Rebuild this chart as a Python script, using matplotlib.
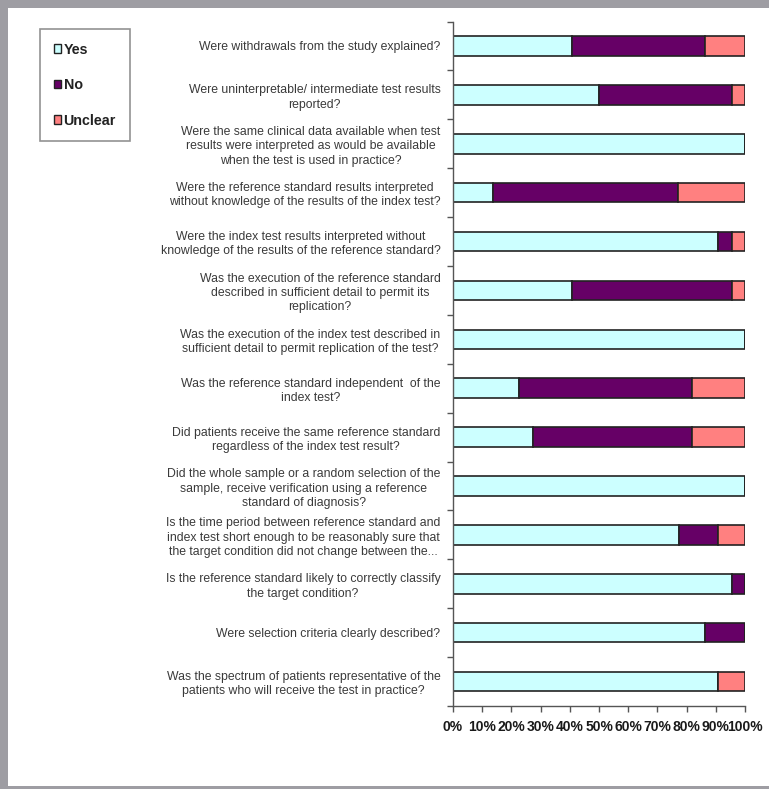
import matplotlib
matplotlib.use("Agg")
import matplotlib.pyplot as plt
from matplotlib.patches import Rectangle, Patch

# ---- data ----
questions = [
    "Were withdrawals from the study explained?",
    "Were uninterpretable/ intermediate test results\nreported?",
    "Were the same clinical data available when test\nresults were interpreted as would be available\nwhen the test is used in practice?",
    "Were the reference standard results interpreted\nwithout knowledge of the results of the index test?",
    "Were the index test results interpreted without\nknowledge of the results of the reference standard?",
    "Was the execution of the reference standard\ndescribed in sufficient detail to permit its\nreplication?",
    "Was the execution of the index test described in\nsufficient detail to permit replication of the test?",
    "Was the reference standard independent  of the\nindex test?",
    "Did patients receive the same reference standard\nregardless of the index test result?",
    "Did the whole sample or a random selection of the\nsample, receive verification using a reference\nstandard of diagnosis?",
    "Is the time period between reference standard and\nindex test short enough to be reasonably sure that\nthe target condition did not change between the...",
    "Is the reference standard likely to correctly classify\nthe target condition?",
    "Were selection criteria clearly described?",
    "Was the spectrum of patients representative of the\npatients who will receive the test in practice?",
]
yes_pct = [40.9, 50.0, 100.0, 13.6, 90.9, 40.9, 100.0, 22.7, 27.3, 100.0, 77.3, 95.5, 86.4, 90.9]
no_pct = [45.5, 45.5, 0.0, 63.6, 4.5, 54.5, 0.0, 59.1, 54.5, 0.0, 13.6, 4.5, 13.6, 0.0]
unclear_pct = [13.6, 4.5, 0.0, 22.8, 4.6, 4.6, 0.0, 18.2, 18.2, 0.0, 9.1, 0.0, 0.0, 9.1]
series_names = ["Yes", "No", "Unclear"]
x_ticks = [0, 10, 20, 30, 40, 50, 60, 70, 80, 90, 100]
x_tick_labels = [f"{t}%" for t in x_ticks]

# ---- style ----
colors = ["#CCFFFF", "#660066", "#FF8080"]
edge = "#222222"
plt.rcParams["font.family"] = ["Liberation Sans", "DejaVu Sans"]

W, H = 769, 789
fig = plt.figure(figsize=(W / 100, H / 100), dpi=100, facecolor="#9e9da3")
fig.add_artist(Rectangle((8 / W, 3 / H), 1 - 8 / W, 1 - 11 / H, transform=fig.transFigure,
                         facecolor="white", edgecolor="none", zorder=0))

ax = fig.add_axes([453 / W, 1 - 706 / H, 292 / W, (706 - 21.5) / H])
ax.set_facecolor("none")

pos = list(range(len(questions)))
left = [0.0] * len(questions)
for vals, col, name in zip([yes_pct, no_pct, unclear_pct], colors, series_names):
    ax.barh(pos, vals, left=left, height=0.4, color=col, edgecolor=edge, linewidth=1.2, label=name)
    left = [l + v for l, v in zip(left, vals)]

ax.set_xlim(0, 100)
ax.set_ylim(len(questions) - 0.5, -0.5)
ax.set_xticks(x_ticks)
ax.set_xticklabels(x_tick_labels, fontsize=10, color="#1a1a1a", fontweight="bold")
ax.tick_params(axis="x", direction="out", length=4, width=1, color="#555555", pad=6)

ax.set_yticks(pos)
ax.set_yticklabels(questions, fontsize=8.8, color="#3a3a3a", multialignment="center",
                   linespacing=1.25)
ax.tick_params(axis="y", which="major", length=0, pad=9)
ax.set_yticks([p - 0.5 for p in pos] + [len(questions) - 0.5], minor=True)
ax.tick_params(axis="y", which="minor", direction="out", length=4, width=1, color="#555555")

for s in ["top", "right"]:
    ax.spines[s].set_visible(False)
for s in ["left", "bottom"]:
    ax.spines[s].set_color("#555555")
    ax.spines[s].set_linewidth(1)

handles = [Patch(facecolor=c, edgecolor=edge, linewidth=1) for c in colors]
leg = fig.legend(handles, series_names, loc="upper left",
                 bbox_to_anchor=(40 / W, 1 - 29 / H), bbox_transform=fig.transFigure,
                 frameon=True, fancybox=False, edgecolor="#777777", fontsize=10.3,
                 handlelength=0.5, handleheight=0.5, handletextpad=0.2,
                 labelspacing=1.5, borderpad=0.95, borderaxespad=0)
leg.get_frame().set_linewidth(1.2)
for t in leg.get_texts():
    t.set_fontweight("bold")
    t.set_color("#222222")

fig.savefig("out.png", dpi=100, facecolor=fig.get_facecolor())
